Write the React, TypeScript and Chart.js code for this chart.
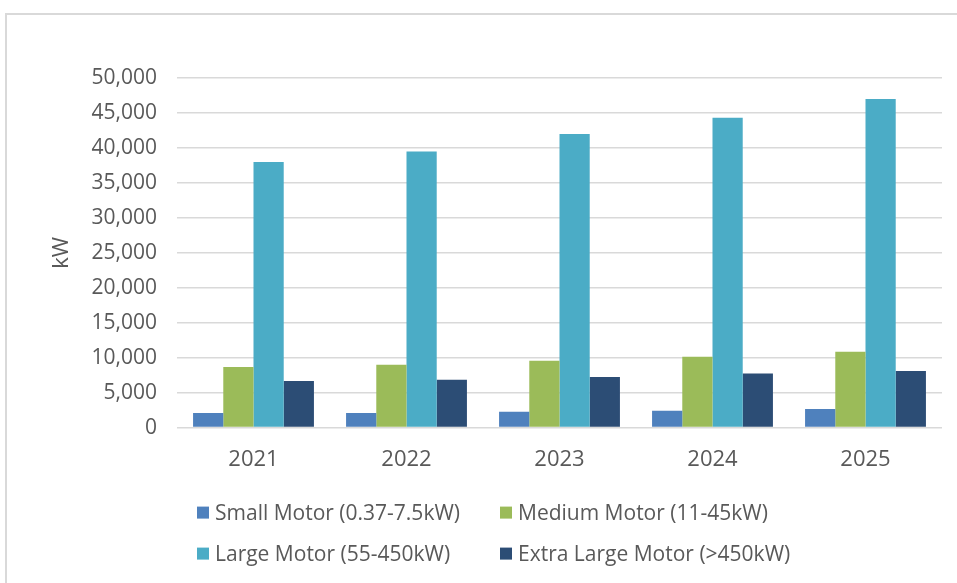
import React, { useEffect, useRef } from "react";
import { Chart, registerables } from "chart.js";

Chart.register(...registerables);

const categories = ["2021", "2022", "2023", "2024", "2025"];
const seriesNames = [
  "Small Motor (0.37-7.5kW)",
  "Medium Motor (11-45kW)",
  "Large Motor (55-450kW)",
  "Extra Large Motor (>450kW)",
];
const smallMotor = [2100, 2100, 2250, 2400, 2650];
const mediumMotor = [8650, 9000, 9550, 10150, 10850];
const largeMotor = [38000, 39500, 42000, 44300, 47000];
const extraLargeMotor = [6650, 6850, 7250, 7750, 8100];
const seriesColors = ["#4F81BD", "#9BBB59", "#4BACC6", "#2C4D75"];
const yAxisTitle = "kW";
const yMin = 0;
const yMax = 50000;
const yStep = 5000;

const FONT = '"Open Sans", "Liberation Sans", sans-serif';
const TEXT = "#595959";

const gridLegend = {
  id: "gridLegend",
  afterDraw(chart: any) {
    const { ctx, chartArea } = chart;
    ctx.save();
    ctx.font = `21px ${FONT}`;
    ctx.textBaseline = "middle";
    ctx.textAlign = "left";
    chart.data.datasets.forEach((ds: any, i: number) => {
      const col = i % 2;
      const row = Math.floor(i / 2);
      const x = chartArea.left + 20 + col * 303;
      const y = chartArea.bottom + 85 + row * 41;
      ctx.fillStyle = ds.backgroundColor;
      ctx.fillRect(x, y - 6, 12, 12);
      ctx.fillStyle = TEXT;
      ctx.fillText(ds.label, x + 18, y + 1);
    });
    ctx.restore();
  },
};

export default function App() {
  const ref = useRef<HTMLCanvasElement | null>(null);

  useEffect(() => {
    if (!ref.current) return;
    const values = [smallMotor, mediumMotor, largeMotor, extraLargeMotor];
    const chart = new Chart(ref.current, {
      type: "bar",
      data: {
        labels: categories,
        datasets: seriesNames.map((name, i) => ({
          label: name,
          data: values[i],
          backgroundColor: seriesColors[i],
          borderWidth: 0,
          categoryPercentage: 0.79,
          barPercentage: 1.0,
        })),
      },
      options: {
        animation: false,
        responsive: false,
        maintainAspectRatio: false,
        layout: { padding: { top: 63, right: 15, bottom: 91, left: 0 } },
        plugins: {
          legend: { display: false },
          tooltip: { enabled: false },
          title: { display: false },
        },
        scales: {
          x: {
            grid: { display: false, drawTicks: false },
            border: { display: false },
            ticks: {
              color: TEXT,
              font: { family: FONT, size: 22 },
              padding: 19,
              maxRotation: 0,
            },
          },
          y: {
            min: yMin,
            max: yMax,
            grid: { color: "#D9D9D9", lineWidth: 1.5, drawTicks: false },
            border: { display: false },
            ticks: {
              stepSize: yStep,
              color: TEXT,
              font: { family: FONT, size: 21 },
              padding: 20,
              callback: (v: any) => Number(v).toLocaleString("en-US"),
            },
            title: {
              display: true,
              text: yAxisTitle,
              color: TEXT,
              font: { family: FONT, size: 22 },
              padding: { top: 42, bottom: 0 },
            },
            afterFit: (scale: any) => {
              scale.width = 170;
            },
          },
        },
      },
      plugins: [gridLegend],
    });
    return () => chart.destroy();
  }, []);

  return (
    <div style={{ position: "fixed", inset: 0, overflow: "hidden", background: "#fff" }}>
      <div
        style={{
          position: "absolute",
          left: 5,
          top: 13,
          width: 1000,
          height: 640,
          border: "2px solid #D9D9D9",
          boxSizing: "border-box",
        }}
      >
        <canvas
          ref={ref}
          width={950}
          height={568}
          style={{ position: "absolute", left: 0, top: 0, width: 950, height: 568 }}
        />
      </div>
    </div>
  );
}
